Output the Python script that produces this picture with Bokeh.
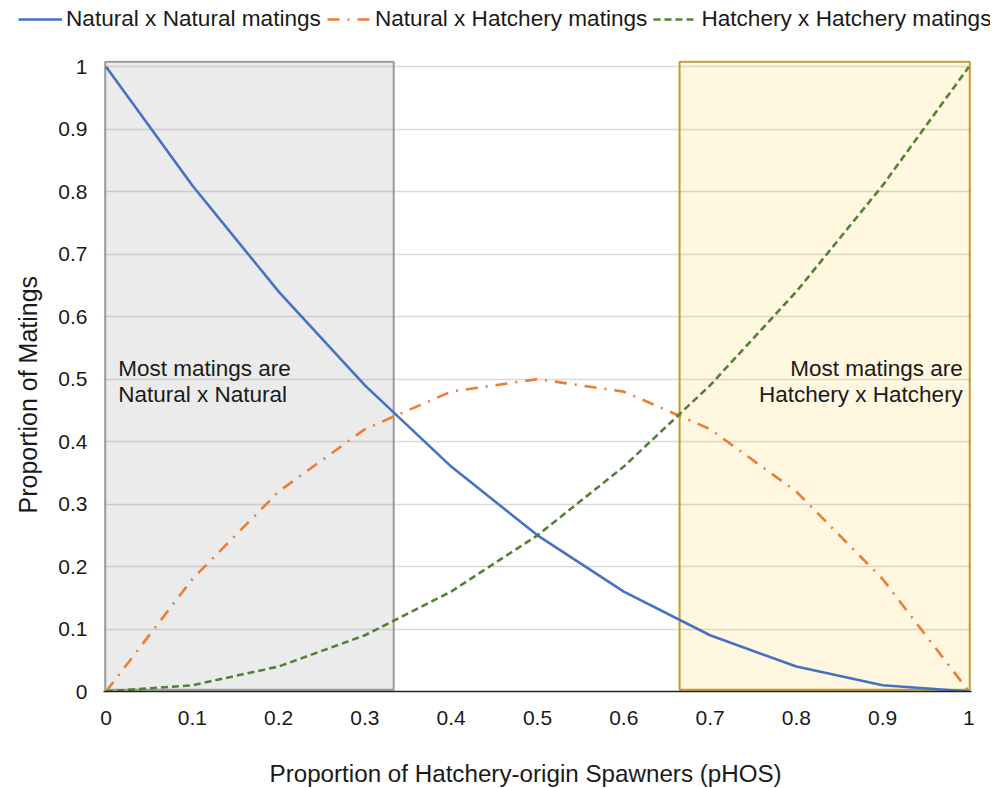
from bokeh.plotting import figure
from bokeh.layouts import column
from bokeh.models import (ColumnDataSource, FixedTicker, Legend, LegendItem, Label, Range1d, Title)
from bokeh.embed import file_html
from bokeh.resources import INLINE

# ---- data ----
pHOS = [0.0, 0.1, 0.2, 0.3, 0.4, 0.5, 0.6, 0.7, 0.8, 0.9, 1.0]
nat_x_nat = [1.0, 0.81, 0.64, 0.49, 0.36, 0.25, 0.16, 0.09, 0.04, 0.01, 0.0]
nat_x_hat = [0.0, 0.18, 0.32, 0.42, 0.48, 0.50, 0.48, 0.42, 0.32, 0.18, 0.0]
hat_x_hat = [0.0, 0.01, 0.04, 0.09, 0.16, 0.25, 0.36, 0.49, 0.64, 0.81, 1.0]
series_names = ["Natural x Natural matings", "Natural x Hatchery matings",
                "Hatchery x Hatchery matings"]
tick_values = [0.0, 0.1, 0.2, 0.3, 0.4, 0.5, 0.6, 0.7, 0.8, 0.9, 1.0]
tick_labels = ["0", "0.1", "0.2", "0.3", "0.4", "0.5", "0.6", "0.7", "0.8", "0.9", "1"]
zone_left = [0.0, 1.0 / 3.0]
zone_right = [2.0 / 3.0, 1.0]
zone_text_left = ["Most matings are", "Natural x Natural"]
zone_text_right = ["Most matings are", "Hatchery x Hatchery"]
x_title = "Proportion of Hatchery-origin Spawners (pHOS)"
y_title = "Proportion of Matings"

FONT = "Liberation Sans"
TXT = "#1a1a1a"
COLORS = ["#4472C4", "#ED7D31", "#548235"]
DASHES = ["solid", "12 8 2 8", "7 4"]
LW = 2.6

p = figure(frame_width=868, frame_height=631,
           min_border_left=103, min_border_right=19, min_border_top=20, min_border_bottom=96,
           x_range=Range1d(-0.003, 1.003), y_range=Range1d(0, 1.01),
           output_backend="svg", toolbar_location=None, tools="")
p.outline_line_color = None
p.background_fill_color = "white"
p.border_fill_color = "white"

# zones
p.quad(left=[zone_left[0] - 0.001], right=[zone_left[1]], bottom=[0.003], top=[1.008],
       fill_color="#808080", fill_alpha=0.16, line_color="#9a9a9a", line_width=2)
p.quad(left=[zone_right[0] - 0.002], right=[zone_right[1] + 0.001], bottom=[0.003], top=[1.008],
       fill_color="#FFC000", fill_alpha=0.12, line_color="#C49A2A", line_width=2)

src = ColumnDataSource(dict(x=pHOS, nn=nat_x_nat, nh=nat_x_hat, hh=hat_x_hat))
for col, c, d in zip(["nn", "nh", "hh"], COLORS, DASHES):
    p.line("x", col, source=src, line_color=c, line_width=LW, line_dash=d)

# axes
for ax in (p.xaxis[0], p.yaxis[0]):
    ax.ticker = FixedTicker(ticks=tick_values)
    ax.major_label_overrides = {v: l for v, l in zip(tick_values, tick_labels)}
    ax.major_tick_out = 0
    ax.major_tick_in = 0
    ax.minor_tick_out = 0
    ax.minor_tick_in = 0
    ax.major_label_text_font = FONT
    ax.major_label_text_font_size = "21px"
    ax.major_label_text_color = TXT
p.xaxis.axis_line_color = "#222222"
p.xaxis.axis_line_width = 1.5
p.yaxis.axis_line_color = None
p.xaxis.major_label_standoff = 19
p.yaxis.major_label_standoff = 16

p.xgrid.grid_line_color = None
p.ygrid.grid_line_color = "#d9d9d9"
p.ygrid.grid_line_width = 1.5
p.ygrid.ticker = FixedTicker(ticks=tick_values[1:])

# zone texts
for txt, yv in zip(zone_text_left, [0.517, 0.475]):
    p.add_layout(Label(x=0.014, y=yv, text=txt, text_font=FONT, text_font_size="22.5px",
                       text_color=TXT, text_baseline="middle", text_align="left"))
for txt, yv in zip(zone_text_right, [0.517, 0.475]):
    p.add_layout(Label(x=0.993, y=yv, text=txt, text_font=FONT, text_font_size="22.5px",
                       text_color=TXT, text_baseline="middle", text_align="right"))

# axis titles
p.add_layout(Title(text=x_title, align="left", offset=166, standoff=60,
                   text_font=FONT, text_font_size="24.2px", text_font_style="normal",
                   text_color=TXT), "below")
p.add_layout(Title(text=y_title, align="left", offset=178, standoff=24, vertical_align="top",
                   text_font=FONT, text_font_size="25px", text_font_style="normal",
                   text_color=TXT), "left")

# legend strip (separate figure on top)
lf = figure(frame_width=990, frame_height=40, min_border=0,
            x_range=Range1d(0, 1), y_range=Range1d(0, 1),
            output_backend="svg", toolbar_location=None, tools="")
lf.outline_line_color = None
lf.axis.visible = False
lf.grid.visible = False
items = []
for name, c, d in zip(series_names, COLORS, DASHES):
    # legend-only renderer placed outside the visible range of the strip
    r = lf.line([-5, -4], [-5, -5], line_color=c, line_width=LW, line_dash=d)
    items.append(LegendItem(label=name, renderers=[r]))
legend = Legend(items=items, orientation="horizontal", location=(18, 8),
                glyph_width=44, glyph_height=22, label_height=22, label_standoff=4, spacing=6,
                padding=0, margin=0, border_line_color=None, background_fill_alpha=0,
                label_text_font=FONT, label_text_font_size="22.6px", label_text_color=TXT)
lf.add_layout(legend, "center")

layout = column(lf, p, spacing=0)
open("out.html", "w").write(file_html(layout, INLINE))
